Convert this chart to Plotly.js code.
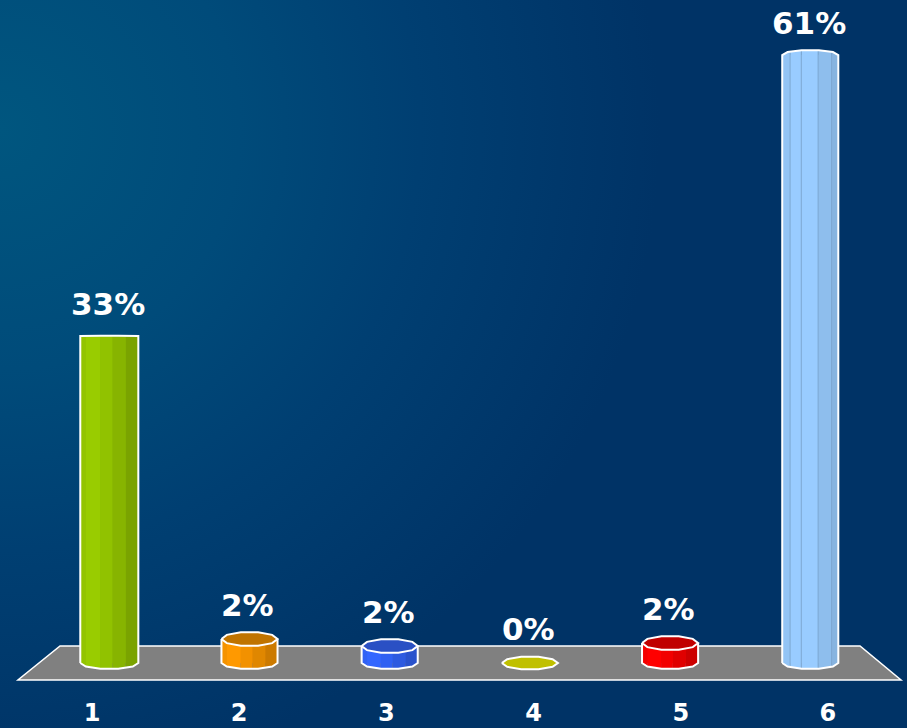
<!DOCTYPE html>
<html>
<head>
<meta charset="utf-8">
<script src="https://cdn.plot.ly/plotly-3.0.1.min.js"></script>
<style>
html,body{margin:0;padding:0;width:907px;height:728px;overflow:hidden;
background:radial-gradient(circle at 0 130px,#00567f 0,#004b7a 240px,#003f72 420px,#003366 660px);}
</style>
</head>
<body>
<div id="chart" style="width:907px;height:728px"></div>
<script>
// Data
var categories = [1, 2, 3, 4, 5, 6];
var values = [32.7, 2.4, 1.7, 0, 2.0, 60.8];
var barColors = ['#99cc00', '#ff9900', '#3366ff', '#cccc00', '#ff0000', '#99ccff'];
var capColors = ['#99cc00', '#c07400', '#2a50c4', '#c0c000', '#c00000', '#99ccff'];
var capDepths = [0.03, 0.7, 0.7, 0.65, 0.7, 0.5];
var backRimOnly = [true, false, false, false, false, true];
var barWidths = [0.414, 0.4, 0.4, 0.4, 0.4, 0.4];

var stripEdges = [0, 0.1, 0.34, 0.55, 0.78, 1];
var stripShades = [0.96, 1, 0.95, 0.88, 0.8];
var seamEdges = [0.14, 0.34, 0.64, 0.88];
var seamShades = [0.96, 1, 1, 0.93, 0.88];
var baseDepth = 0.6;

function shade(hex, f) {
  var n = parseInt(hex.slice(1), 16);
  return 'rgb(' + Math.round((n >> 16) * f) + ',' + Math.round(((n >> 8) & 255) * f) + ',' + Math.round((n & 255) * f) + ')';
}
var SEG = 5, arcU = [], arcD = [];
for (var k = 0; k <= SEG; k++) {
  arcU.push((1 - Math.cos(Math.PI * k / SEG)) / 2);
  arcD.push(Math.sin(Math.PI * k / SEG));
}
function arcDepth(u) { // chunky faceted rim, as in the picture
  for (var k = 0; k < SEG; k++) {
    if (u <= arcU[k + 1]) {
      return arcD[k] + (arcD[k + 1] - arcD[k]) * (u - arcU[k]) / (arcU[k + 1] - arcU[k]);
    }
  }
  return 0;
}

var traces = [];
// invisible carrier for the tick-label axis
traces.push({type: 'scatter', x: categories, y: values.map(function () { return 0; }),
  xaxis: 'x', yaxis: 'y', mode: 'markers', marker: {opacity: 0, size: 1}, hoverinfo: 'skip', showlegend: false});
// the bars themselves
traces.push({type: 'bar', x: categories, y: values, width: barWidths, xaxis: 'x2', yaxis: 'y',
  marker: {color: barColors, line: {width: 0}}, hoverinfo: 'skip', showlegend: false});

categories.forEach(function (c, i) {
  var v = values[i], w = barWidths[i], left = c - w / 2, d = capDepths[i];
  var sign = backRimOnly[i] ? -1 : 1;
  var topY = function (u) { return v - sign * d * arcDepth(u); };
  var botY = function (u) { return -baseDepth * arcDepth(u); };
  var S = 8;
  var edges = i === 5 ? [0].concat(seamEdges, [1]) : stripEdges;
  var shades = i === 5 ? seamShades : stripShades;
  if (v > 0) {
    shades.forEach(function (f, k) {
      var a = edges[k], b = edges[k + 1], xs = [], ys = [], j, u;
      for (j = 0; j <= S; j++) { u = a + (b - a) * j / S; xs.push(left + w * u); ys.push(topY(u)); }
      for (j = S; j >= 0; j--) { u = a + (b - a) * j / S; xs.push(left + w * u); ys.push(botY(u)); }
      traces.push({type: 'scatter', x: xs, y: ys, xaxis: 'x2', yaxis: 'y', mode: 'lines', fill: 'toself',
        fillcolor: shade(barColors[i], f), line: {width: 0}, hoverinfo: 'skip', showlegend: false});
    });
  }
  // strip seams on the tall light bar
  if (i === 5) {
    seamEdges.forEach(function (u) {
      traces.push({type: 'scatter', x: [left + w * u, left + w * u], y: [botY(u), topY(u)], xaxis: 'x2', yaxis: 'y',
        mode: 'lines', line: {width: 1, color: shade(barColors[i], 0.82)}, hoverinfo: 'skip', showlegend: false});
    });
  }
  var n, cx = [], cy = [];
  // top cap
  if (!backRimOnly[i]) {
    for (n = 0; n <= SEG; n++) { cx.push(left + w * arcU[n]); cy.push(v - d * arcD[n]); }
    for (n = SEG - 1; n >= 0; n--) { cx.push(left + w * arcU[n]); cy.push(v + d * arcD[n]); }
    traces.push({type: 'scatter', x: cx, y: cy, xaxis: 'x2', yaxis: 'y', mode: 'lines', fill: 'toself',
      fillcolor: capColors[i], line: {width: 2, color: '#ffffff'}, hoverinfo: 'skip', showlegend: false});
  }
  // silhouette
  if (v > 0) {
    var ox = [], oy = [];
    for (n = 0; n <= SEG; n++) { ox.push(left + w * arcU[n]); oy.push(-baseDepth * arcD[n]); }
    if (backRimOnly[i]) {
      for (n = SEG; n >= 0; n--) { ox.push(left + w * arcU[n]); oy.push(v + d * arcD[n]); }
      ox.push(ox[0]); oy.push(oy[0]);
    } else {
      ox.push(left + w); oy.push(v);
      ox.unshift(left); oy.unshift(v);
    }
    traces.push({type: 'scatter', x: ox, y: oy, xaxis: 'x2', yaxis: 'y', mode: 'lines',
      line: {width: 2, color: '#ffffff'}, hoverinfo: 'skip', showlegend: false});
  }
});

var W = 907, H = 728;
function px(x) { return x / W; }
function py(y) { return 1 - y / H; }
var floorPts = [[60, 646], [860, 646], [901, 680], [18, 680]];
var floorPath = floorPts.map(function (p, i) {
  return (i ? 'L' : 'M') + px(p[0]).toFixed(4) + ',' + py(p[1]).toFixed(4);
}).join(' ') + ' Z';

var annotations = categories.map(function (c, i) {
  var v = values[i];
  return {x: c, y: v + (v < 5 ? 3.45 : 3.2), xref: 'x2', yref: 'y', xshift: -1.5, showarrow: false, yanchor: 'middle',
    text: Math.round(v) + '%', font: {family: 'DejaVu Sans', size: 31, color: '#ffffff', weight: 700}};
});

var layout = {
  width: W, height: H,
  margin: {l: 0, r: 0, t: 0, b: 0, pad: 0},
  paper_bgcolor: 'rgba(0,0,0,0)', plot_bgcolor: 'rgba(0,0,0,0)',
  showlegend: false, bargap: 0, barmode: 'overlay',
  xaxis: {range: [0.375, 6.537], anchor: 'free', position: 0.044, tickmode: 'array', tickvals: categories,
    ticktext: categories.map(String), showgrid: false, zeroline: false, showline: false, ticks: '', fixedrange: true,
    tickfont: {family: 'DejaVu Sans', size: 24, color: '#ffffff', weight: 700}},
  xaxis2: {range: [0.2204, 6.690], overlaying: 'x', anchor: 'y', visible: false, fixedrange: true},
  yaxis: {range: [-6.5, 66.3], visible: false, fixedrange: true},
  shapes: [{type: 'path', xref: 'paper', yref: 'paper', layer: 'below', path: floorPath,
    fillcolor: '#808080', line: {color: '#ffffff', width: 1.5}}],
  annotations: annotations
};
Plotly.newPlot('chart', traces, layout, {displayModeBar: false, staticPlot: true});
</script>
</body>
</html>
